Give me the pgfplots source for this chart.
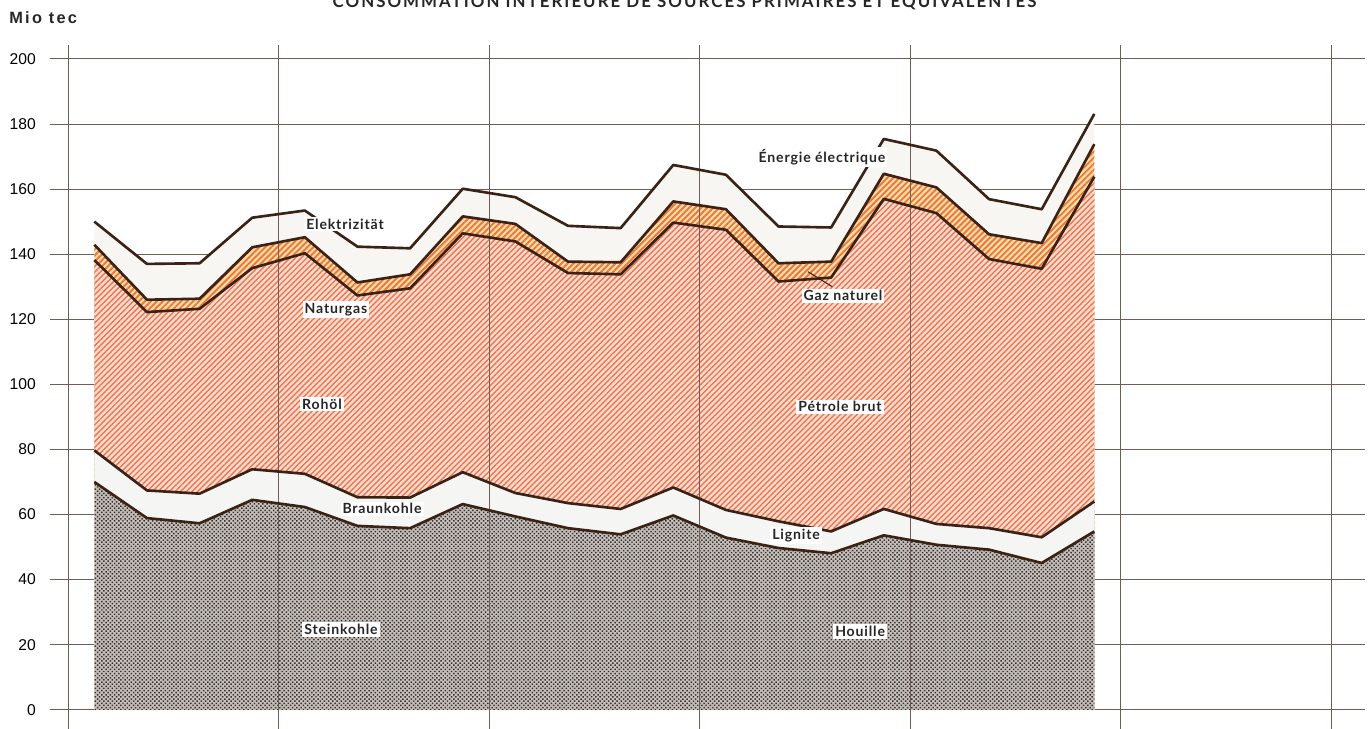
\documentclass[border=0pt]{standalone}
\usepackage{fontspec}
\setmainfont{Liberation Sans}
\newfontfamily\labfont[LetterSpace=6]{Lato}
\newfontfamily\titlefont[LetterSpace=12]{Lato}
\newfontfamily\miofont[LetterSpace=14]{Liberation Sans}
\usepackage{pgfplots}
\pgfplotsset{compat=1.18}
\usepackage{pgfplotstable}
\usetikzlibrary{patterns.meta}

\definecolor{ink}{HTML}{3A2216}
\definecolor{gridc}{HTML}{6E5E56}
\definecolor{elec}{HTML}{F7F6F3}
\definecolor{gasbg}{HTML}{FBDFA0}
\definecolor{gasln}{HTML}{EA7646}
\definecolor{oilbg}{HTML}{FCDCCB}
\definecolor{oilln}{HTML}{EB7656}
\definecolor{lig}{HTML}{F5F5F4}
\definecolor{coalbg}{HTML}{C4BFBA}
\definecolor{coaldot}{HTML}{3A312E}

% quarterly boundaries of the stacked areas (Mio tec)
% S = Steinkohle, L = + Braunkohle, O = + Rohoel, G = + Naturgas, T = + Elektrizitaet
\pgfplotstableread{
x    S     L     O      G      T
0.5  70.0  79.7  138.2  142.9  150.0
1.5  58.9  67.4  122.2  126.0  137.0
2.5  57.3  66.4  123.2  126.3  137.2
3.5  64.5  73.9  135.7  142.1  151.2
4.5  62.3  72.5  140.3  145.2  153.4
5.5  56.5  65.3  127.3  131.3  142.3
6.5  55.8  65.2  129.5  133.8  141.8
7.5  63.2  73.0  146.4  151.6  160.1
8.5  59.4  66.6  143.9  149.3  157.5
9.5  55.8  63.5  134.2  137.7  148.7
10.5 53.9  61.7  133.8  137.5  148.0
11.5 59.7  68.3  149.7  156.2  167.4
12.5 52.9  61.4  147.5  153.8  164.4
13.5 49.7  57.9  131.6  137.2  148.5
14.5 48.1  54.8  132.8  137.7  148.2
15.5 53.6  61.7  157.0  164.7  175.4
16.5 50.7  57.1  152.6  160.5  171.8
17.5 49.2  55.8  138.5  146.1  156.9
18.5 45.1  53.0  135.5  143.4  153.8
19.5 54.8  64.0  163.8  173.8  183.1
}\data

\begin{document}
\begin{tikzpicture}
\begin{axis}[
  scale only axis,
  width=26.3cm, height=13.68cm,
  xmin=-0.34, xmax=24.64, ymin=-5.84, ymax=204.3,
  axis line style={draw=none},
  xtick=\empty,
  ytick={0,20,...,200},
  ymajorgrids,
  grid style={gridc, line width=0.5pt},
  major tick length=0pt,
  /pgf/number format/assume math mode=true,
  yticklabel style={font=\fontsize{8.9}{10}\selectfont, inner sep=0pt, xshift=-0.28cm},
  no markers,
  clip=false,
]
\addplot[draw=none, fill=elec] table[x=x, y=T]{\data} \closedcycle;
\addplot[draw=none, fill=gasbg, postaction={pattern={Lines[angle=45, distance=0.085cm, line width=0.038cm]}, pattern color=gasln}] table[x=x, y=G]{\data} \closedcycle;
\addplot[draw=none, fill=oilbg, postaction={pattern={Lines[angle=45, distance=0.08cm, line width=0.028cm]}, pattern color=oilln}] table[x=x, y=O]{\data} \closedcycle;
\addplot[draw=none, fill=lig] table[x=x, y=L]{\data} \closedcycle;
\addplot[draw=none, fill=coalbg, postaction={pattern={Dots[distance=0.06cm, radius=0.021cm, angle=45]}, pattern color=coaldot}] table[x=x, y=S]{\data} \closedcycle;

% vertical grid lines run over the areas
\pgfplotsinvokeforeach{0,4,8,12,16,20,24}{
  \draw[gridc, line width=0.45pt] (axis cs:#1,-5.84) -- (axis cs:#1,204.3);
}

\addplot[ink, line width=1.5pt, line join=round] table[x=x, y=T]{\data};
\addplot[ink, line width=1.5pt, line join=round] table[x=x, y=G]{\data};
\addplot[ink, line width=1.5pt, line join=round] table[x=x, y=O]{\data};
\addplot[ink, line width=1.5pt, line join=round] table[x=x, y=L]{\data};
\addplot[ink, line width=1.5pt, line join=round] table[x=x, y=S]{\data};

\draw[ink, line width=0.6pt] (axis cs:14.06,134.6) -- (axis cs:14.52,130.0);

\tikzset{lab/.style={fill=white, inner sep=0.04cm, text=black!85,
  font=\labfont\bfseries\fontsize{8}{9}\selectfont}}
\node[lab] at (axis cs:5.263,149.3) {Elektrizität};
\node[lab] at (axis cs:5.092,122.9) {Naturgas};
\node[lab] at (axis cs:4.826,94.0) {Rohöl};
\node[lab] at (axis cs:5.966,61.75) {Braunkohle};
\node[lab] at (axis cs:5.187,24.6) {Steinkohle};
\node[lab] at (axis cs:14.326,169.9) {Énergie électrique};
\node[lab] at (axis cs:14.725,127.2) {Gaz naturel};
\node[lab] at (axis cs:14.668,93.1) {Pétrole brut};
\node[lab] at (axis cs:13.833,53.5) {Lignite};
\node[lab] at (axis cs:15.05,24.0) {Houille};

\node[anchor=west, inner sep=0pt, font=\miofont\bfseries\fontsize{9.3}{10}\selectfont, text=black!85] at (axis cs:-1.121,212.6) {Mio tec};
\node[anchor=base, inner sep=0pt, text=black!85, font=\titlefont\bfseries\fontsize{9.6}{11}\selectfont]
  at (axis cs:11.714,215.8) {CONSOMMATION INTÉRIEURE DE SOURCES PRIMAIRES ET ÉQUIVALENTES};

\coordinate (bbl) at (axis cs:-1.292,-5.84);
\coordinate (btr) at (axis cs:24.757,218.1);
\end{axis}
\pgfresetboundingbox
\useasboundingbox (bbl) rectangle (btr);
\end{tikzpicture}
\end{document}
